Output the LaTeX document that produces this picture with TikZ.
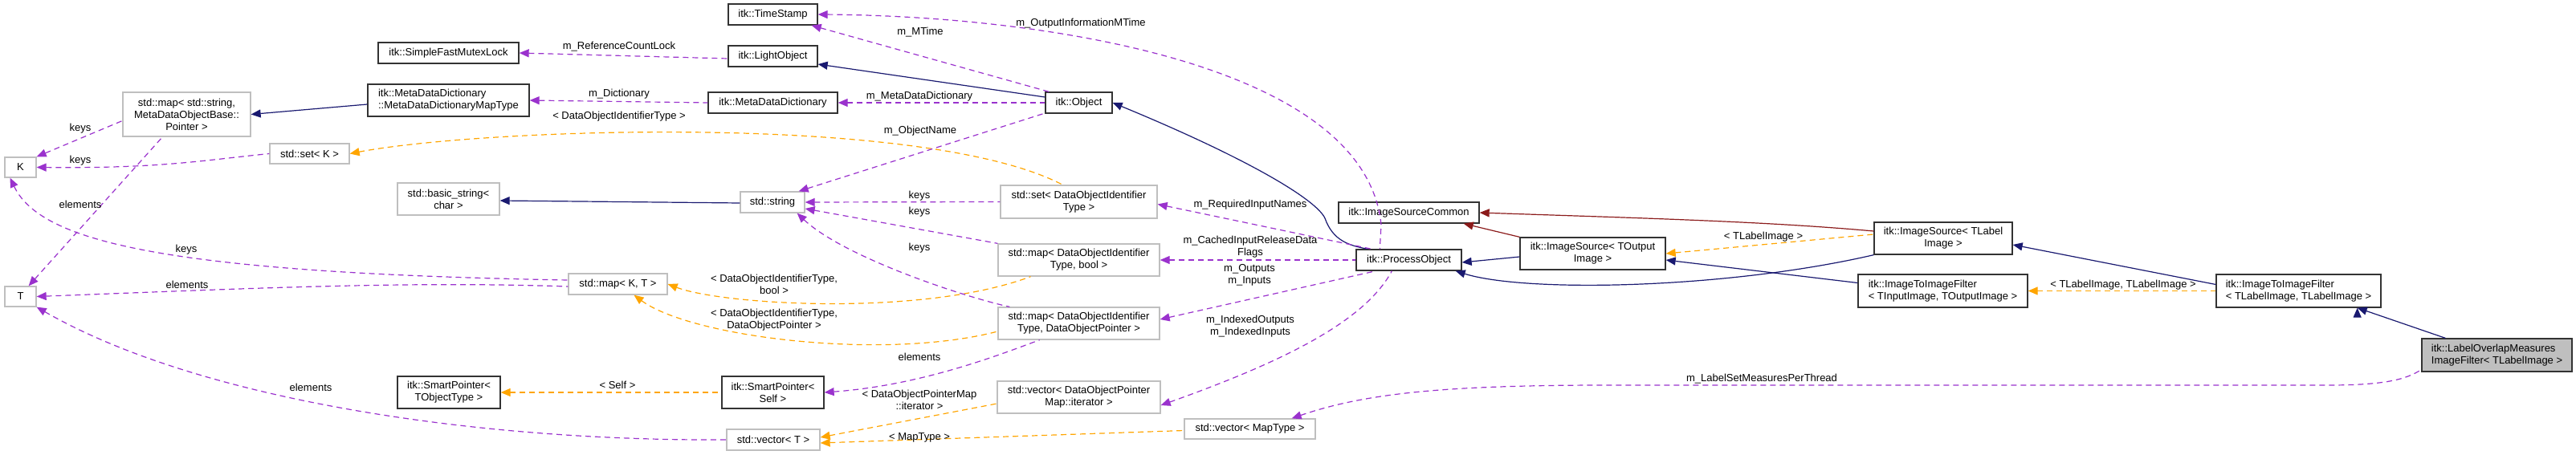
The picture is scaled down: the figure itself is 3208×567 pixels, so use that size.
\documentclass[tikz,border=0pt]{standalone}
\usepackage{fontspec}
\setmainfont{Liberation Sans}
\usetikzlibrary{arrows.meta}
\definecolor{navy}{HTML}{191970}
\definecolor{purp}{HTML}{9A32CD}
\definecolor{orng}{HTML}{FFA500}
\definecolor{dred}{HTML}{8B1A1A}
\tikzset{
  base/.style={rectangle,inner sep=0pt,align=center,font=\fontsize{13}{15}\selectfont,line width=1.3pt},
  blk/.style={base,draw=black!80},
  gry/.style={base,draw=black!25},
  cur/.style={base,draw=black!80,fill=black!25},
  lab/.style={font=\fontsize{13}{15}\selectfont,align=center,inner sep=0pt},
  tip/.style={{Triangle[length=12pt,width=10pt]}-},
  inh/.style={tip,draw=navy,line width=1.2pt},
  priv/.style={tip,draw=dred,line width=1.2pt},
  use/.style={tip,draw=purp,line width=1.2pt,dash pattern=on 7pt off 5pt},
  tmpl/.style={tip,draw=orng,line width=1.2pt,dash pattern=on 7pt off 5pt},
}
\newcommand\bx[7]{\node[#6,minimum width={#4-#2},minimum height={#5-#3}] (#1) at ({(#2+#4)/2},{(#3+#5)/2}) {#7};}
\begin{document}
\begin{tikzpicture}[x=1pt,y=-1pt]
\useasboundingbox (0,0) rectangle (3208,567);
\bx{ts}{907}{5}{1018}{31}{blk}{itk::TimeStamp}
\bx{lo}{907}{57}{1018}{83}{blk}{itk::LightObject}
\bx{sfm}{471}{53}{646}{79}{blk}{itk::SimpleFastMutexLock}
\bx{mddmt}{458}{105}{659}{145}{blk,align=left}{itk::MetaDataDictionary\\::MetaDataDictionaryMapType}
\bx{mdd}{882}{115}{1043}{141}{blk}{itk::MetaDataDictionary}
\bx{obj}{1302}{115}{1385}{141}{blk}{itk::Object}
\bx{mapstr}{153}{115}{312}{170}{gry}{std::map< std::string,\\ MetaDataObjectBase::\\Pointer >}
\bx{K}{6}{196}{45}{221}{gry}{K}
\bx{setk}{336}{179}{435}{204}{gry}{std::set< K >}
\bx{bstr}{495}{228}{622}{268}{gry}{std::basic\_string<\\ char >}
\bx{str}{922}{239}{1002}{265}{gry}{std::string}
\bx{sdoit}{1246}{231}{1441}{272}{gry}{std::set< DataObjectIdentifier\\Type >}
\bx{isc}{1667}{252}{1842}{278}{blk}{itk::ImageSourceCommon}
\bx{po}{1689}{311}{1820}{337}{blk}{itk::ProcessObject}
\bx{isout}{1893}{296}{2074}{336}{blk}{itk::ImageSource< TOutput\\ Image >}
\bx{islab}{2334}{277}{2506}{317}{blk}{itk::ImageSource< TLabel\\ Image >}
\bx{itifio}{2314}{342}{2525}{383}{blk,align=left}{itk::ImageToImageFilter\\< TInputImage, TOutputImage >}
\bx{itifll}{2760}{342}{2965}{383}{blk,align=left}{itk::ImageToImageFilter\\< TLabelImage, TLabelImage >}
\bx{lom}{3016}{422}{3203}{463}{cur,align=left}{itk::LabelOverlapMeasures\\ImageFilter< TLabelImage >}
\bx{mbool}{1243}{304}{1444}{344}{gry}{std::map< DataObjectIdentifier\\Type, bool >}
\bx{mdop}{1243}{383}{1444}{423}{gry}{std::map< DataObjectIdentifier\\Type, DataObjectPointer >}
\bx{T}{6}{357}{45}{382}{gry}{T}
\bx{mapkt}{708}{341}{831}{367}{gry}{std::map< K, T >}
\bx{sptot}{495}{469}{623}{509}{blk}{itk::SmartPointer<\\ TObjectType >}
\bx{spself}{899}{469}{1026}{509}{blk}{itk::SmartPointer<\\ Self >}
\bx{vdop}{1242}{475}{1445}{515}{gry}{std::vector< DataObjectPointer\\Map::iterator >}
\bx{vt}{905}{535}{1021}{561}{gry}{std::vector< T >}
\bx{vmt}{1475}{522}{1638}{547}{gry}{std::vector< MapType >}
% inheritance
\draw[inh] (itifll.south east) ++(-30,0) coordinate (a1) ;
\draw[inh] (a1) -- ([xshift=30pt]lom.north west);
\draw[inh] ([yshift=-8pt]islab.east) -- ([yshift=8pt]itifll.west);
\draw[inh] ([yshift=-8pt]isout.east) -- ([yshift=10pt]itifio.west);
\draw[inh] ([yshift=-3pt]po.east) -- ([yshift=-4pt]isout.west);
\draw[inh] ([xshift=-8pt]po.south east) .. controls (1900,365) and (2150,360) .. (islab.south west);
\draw[inh] (obj.east) .. controls (1560,200) and (1640,250) .. (1650,272) .. controls (1660,300) and (1680,306) .. ([xshift=15pt]po.north west);
\draw[inh] ([yshift=-10pt]lo.east) -- ([yshift=7pt]obj.west);
\draw[inh] ([yshift=-2pt]bstr.east) -- ([yshift=-1pt]str.west);
\draw[inh] (mapstr.east) -- ([yshift=-5pt]mddmt.west);
\draw[priv] (isc.east) .. controls (2050,272) and (2200,276) .. ([yshift=9pt]islab.west);
\draw[priv] ([xshift=-20pt]isc.south east) -- (isout.north west);
% template
\draw[tmpl] (isout.east) -- ([yshift=5pt]islab.west);
\draw[tmpl] (itifio.east) -- (itifll.west);
\draw[tmpl] (setk.east) .. controls (600,160) and (1150,140) .. ([xshift=-20pt]sdoit.north);
\draw[tmpl] (mapkt.east) .. controls (900,380) and (1150,395) .. ([xshift=-60pt]mbool.south);
\draw[tmpl] ([xshift=20pt]mapkt.south) .. controls (860,420) and (1100,450) .. ([yshift=-10pt]mdop.west);
\draw[tmpl] (sptot.east) -- (spself.west);
\draw[tmpl] ([yshift=3pt]vt.east) -- ([yshift=-8pt]vdop.west);
\draw[tmpl] ([yshift=-4pt]vt.east) -- ([yshift=-2pt]vmt.west);
% usage
\draw[use] (sfm.east) -- ([yshift=-3pt]lo.west);
\draw[use] (mddmt.east) -- (mdd.west);
\draw[use] (mdd.east) -- (obj.west);
\draw[use] ([xshift=-8pt]ts.south east) -- ([xshift=5pt]obj.north west);
\draw[use] (ts.east) .. controls (1300,20) and (1700,80) .. (1720,280) -- ([xshift=30pt]po.north west);
\draw[use] ([xshift=-8pt]str.north east) -- ([xshift=-2pt]obj.south west);
\draw[use] (str.east) -- (sdoit.west);
\draw[use] ([yshift=-8pt]str.east) -- (mbool.north west);
\draw[use] ([xshift=-10pt]str.south east) .. controls (1050,320) and (1200,370) .. ([xshift=15pt]mdop.north west);
\draw[use] ([yshift=-3pt]sdoit.east) -- ([xshift=20pt]po.north west);
\draw[use] (mbool.east) -- (po.west);
\draw[use] ([yshift=5pt]mdop.east) -- ([xshift=25pt]po.south west);
\draw[use] ([yshift=-10pt]vdop.east) .. controls (1600,450) and (1700,400) .. ([xshift=45pt]po.south west);
\draw[use] (spself.east) .. controls (1150,480) and (1250,440) .. ([xshift=-150pt]mdop.south east);
\draw[use] ([xshift=-30pt]vmt.north east) .. controls (1700,490) and (1800,480) .. (2000,480) -- (2900,480) .. controls (2980,480) and (3000,470) .. ([yshift=3pt]lom.south west);
\draw[use] (K.north east) -- ([yshift=-8pt]mapstr.west);
\draw[use] (K.east) .. controls (200,210) and (250,200) .. (setk.west);
\draw[use] ([xshift=-10pt]T.north east) -- ([xshift=50pt]mapstr.south west);
\draw[use] ([xshift=-13pt]K.south) .. controls (50,300) and (200,340) .. ([yshift=5pt]mapkt.west);
\draw[use] (T.east) .. controls (300,360) and (500,350) .. ([yshift=-3pt]mapkt.west);
\draw[use] (T.south east) .. controls (250,500) and (600,550) .. (vt.west);
% labels
\node[lab] (l1) at (771,58) {m\_ReferenceCountLock};
\node[lab] (l2) at (771,117) {m\_Dictionary};
\node[lab] (l3) at (771,145) {< DataObjectIdentifierType >};
\node[lab] (l4) at (100,160) {keys};
\node[lab] (l5) at (100,200) {keys};
\node[lab] (l6) at (100,255) {elements};
\node[lab] (l7) at (232,311) {keys};
\node[lab] (l8) at (233,355) {elements};
\node[lab] (l9) at (387,483) {elements};
\node[lab] (l10) at (769,480) {< Self >};
\node[lab] (l11) at (1346,29) {m\_OutputInformationMTime};
\node[lab] (l12) at (1146,40) {m\_MTime};
\node[lab] (l13) at (1145,120) {m\_MetaDataDictionary};
\node[lab] (l14) at (1146,163) {m\_ObjectName};
\node[lab] (l15) at (1145,244) {keys};
\node[lab] (l16) at (1145,264) {keys};
\node[lab] (l17) at (1145,309) {keys};
\node[lab] (l18) at (1557,255) {m\_RequiredInputNames};
\node[lab] (l19) at (1557,308) {m\_CachedInputReleaseData\\Flags};
\node[lab] (l20) at (1556,343) {m\_Outputs\\m\_Inputs};
\node[lab] (l21) at (1557,407) {m\_IndexedOutputs\\m\_IndexedInputs};
\node[lab] (l22) at (964,354) {< DataObjectIdentifierType,\\bool >};
\node[lab] (l23) at (964,399) {< DataObjectIdentifierType,\\DataObjectPointer >};
\node[lab] (l24) at (1145,445) {elements};
\node[lab] (l25) at (1145,498) {< DataObjectPointerMap\\::iterator >};
\node[lab] (l26) at (1145,545) {< MapType >};
\node[lab] (l27) at (2196,295) {< TLabelImage >};
\node[lab] (l28) at (2644,355) {< TLabelImage, TLabelImage >};
\node[lab] (l29) at (2194,472) {m\_LabelSetMeasuresPerThread};
\end{tikzpicture}
\end{document}
